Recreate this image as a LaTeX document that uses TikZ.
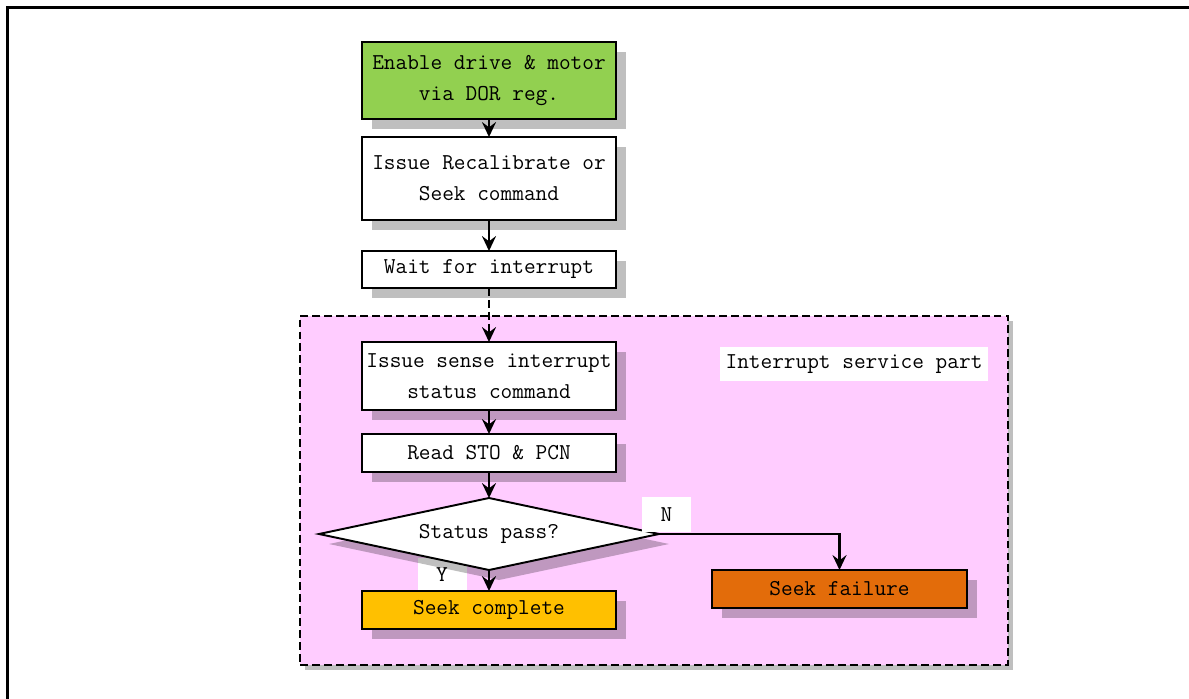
\documentclass[tikz,border=0pt]{standalone}
\usepackage{fontspec}
\usetikzlibrary{positioning, arrows.meta, calc, shapes.geometric, shadows}
\definecolor{drivegreen}{RGB}{146, 208, 80}
\definecolor{isrpink}{RGB}{255, 204, 255}
\definecolor{donegold}{RGB}{255, 192, 0}
\definecolor{failorange}{RGB}{227, 108, 10}
\newcommand{\flowfont}{\ttfamily\fontsize{12.9pt}{17.6pt}\selectfont}

\begin{document}
\begin{tikzpicture}[
    >={Stealth[length=8.5pt, width=8pt, inset=3pt]},
    boxshadow/.style={drop shadow={shadow xshift=0.2cm, shadow yshift=-0.2cm, fill=black, opacity=0.25}},
    proc/.style={draw=black, line width=1.1pt, fill=white, minimum width=5.08cm, minimum height=0.76cm, inner sep=1pt, outer sep=0pt, align=center, font=\flowfont, boxshadow},
    decision/.style={diamond, draw=black, line width=1.1pt, fill=white, minimum width=6.8cm, minimum height=1.44cm, aspect=4.7, inner sep=0pt, outer sep=0pt, font=\flowfont, boxshadow},
    region/.style={draw=black, line width=1.1pt, dash pattern=on 4.5pt off 2.3pt, fill=isrpink, inner sep=0pt, drop shadow={shadow xshift=0.1cm, shadow yshift=-0.1cm, fill=black, opacity=0.25}},
    arrow/.style={->, line width=1.2pt, black},
    tag/.style={fill=white, font=\flowfont, inner sep=0pt},
]
\useasboundingbox (0,0) rectangle (23.78,-13.96);

% ===== 外框 =====
\begin{scope}
    \clip (0,0) rectangle (23.78,-13.96);
    \draw[line width=1.6pt] (0.15,-0.15) rectangle (24.5,-14.5);
\end{scope}

% ===== 中断服务区 =====
\node[region, minimum width=14.16cm, minimum height=6.98cm] (isr) at (13.08,-9.81) {};
\node[tag, minimum width=5.36cm, minimum height=0.68cm] (isrlabel) at (17.08,-7.28) {Interrupt service part};

% ===== 主流程 =====
\node[proc, fill=drivegreen, minimum height=1.54cm] (drive) at (9.78,-1.61) {Enable drive \& motor\\via DOR reg.};
\node[proc, minimum height=1.66cm, below=0.36cm of drive] (recal) {Issue Recalibrate or\\Seek command};
\node[proc, minimum height=0.74cm, below=0.62cm of recal] (wait) {Wait for interrupt};
\node[proc, minimum height=1.36cm, below=1.08cm of wait] (sense) {Issue sense interrupt\\status command};
\node[proc, below=0.48cm of sense] (readst) {Read STO \& PCN};

% Y 标签 (在判断框下面)
\node[tag, minimum width=0.98cm, minimum height=0.7cm] (ytag) at (8.84,-11.5) {Y};

% 判断
\node[decision, below=0.52cm of readst] (status) {Status pass?};
\node[tag, minimum width=0.98cm, minimum height=0.7cm] (ntag) at ($(status.east)+(0.15,0.39)$) {N};

% 结果
\node[proc, fill=donegold, below=0.42cm of status] (complete) {Seek complete};
\node[proc, fill=failorange, minimum width=5.1cm] (failure) at (16.79,-11.78) {Seek failure};

% 箭头
\draw[arrow] (drive.south) -- (recal.north);
\draw[arrow] (recal.south) -- (wait.north);
\draw[arrow, dash pattern=on 4.5pt off 2.3pt] (wait.south) -- (sense.north);
\draw[arrow] (sense.south) -- (readst.north);
\draw[arrow] (readst.south) -- (status.north);
\draw[arrow] (status.south) -- (complete.north);
\draw[arrow] (status.east) -| (failure.north);

\end{tikzpicture}
\end{document}
